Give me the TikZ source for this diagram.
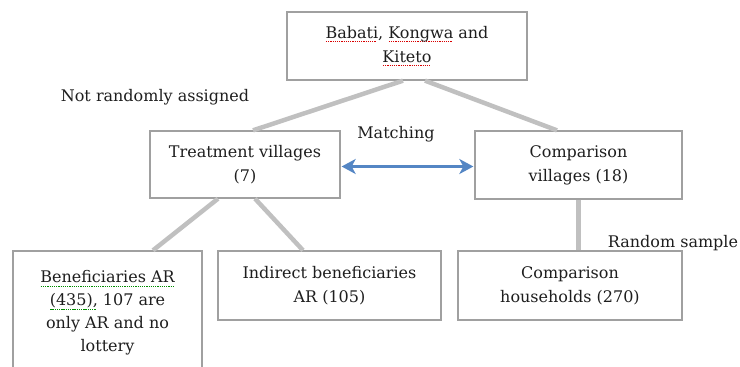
\documentclass[tikz,border=0pt]{standalone}
\usepackage{fontspec}
\setmainfont{DejaVu Serif}
\usetikzlibrary{arrows.meta}
\definecolor{boxgray}{RGB}{160,160,160}
\definecolor{linkgray}{RGB}{192,192,192}
\definecolor{matchblue}{RGB}{84,134,196}
\definecolor{txtgray}{RGB}{30,30,30}
\newsavebox\sqbox
\newcommand\squig[2]{\sbox\sqbox{#2}\rlap{\color{#1}\raisebox{-3.8pt}{\hbox to\wd\sqbox{\leaders\hbox to 2.2pt{\hss\rule{1.3pt}{1pt}\hss}\hfill}}}\usebox\sqbox}
\newcommand\redsq[1]{\squig{red!85!black}{#1}}
\newcommand\greensq[1]{\squig{green!55!black}{#1}}

\begin{document}
\begin{tikzpicture}[x=1pt,y=-1pt,
  box/.style={draw=boxgray,line width=1.3pt,fill=white,align=center,inner sep=2pt,text=txtgray,font=\fontsize{16}{24}\selectfont},
  lbl/.style={text=txtgray,font=\fontsize{16}{20}\selectfont},
  link/.style={linkgray,line width=4.5pt}]
\useasboundingbox (0,0) rectangle (740,367);
\clip (0,0) rectangle (740,367);
\node[box,minimum width=240pt,minimum height=68pt] (top) at (407,46) {\redsq{Babati}, \redsq{Kongwa} and\\\redsq{Kiteto}};
\node[box,minimum width=190pt,minimum height=67pt] (treat) at (245,164.5) {Treatment villages\\(7)};
\node[box,minimum width=207pt,minimum height=68pt] (comp) at (578.5,165) {Comparison\\villages (18)};
\node[box,minimum width=189pt,minimum height=124pt,font=\fontsize{16}{23}\selectfont] (benef) at (107.5,313) {\greensq{Beneficiaries AR}\\\greensq{(435),} 107 are\\only AR and no\\lottery};
\node[box,minimum width=223pt,minimum height=69pt] (indir) at (329.5,285.5) {Indirect beneficiaries\\AR (105)};
\node[box,minimum width=224pt,minimum height=69pt] (hh) at (570,285.5) {Comparison\\households (270)};
\node[lbl] (nra) at (155,97) {Not randomly assigned};
\node[lbl] (match) at (396,134) {Matching};
\node[lbl] (rs) at (673,243) {Random sample};
\draw[link] ([xshift=-4pt]top.south) -- ([xshift=8pt]treat.north);
\draw[link] ([xshift=18pt]top.south) -- ([xshift=-21.5pt]comp.north);
\draw[link] ([xshift=-27pt]treat.south) -- ([xshift=45.5pt]benef.north);
\draw[link] ([xshift=10pt]treat.south) -- ([xshift=-26.5pt]indir.north);
\draw[link] (comp.south) -- ([xshift=8.5pt]hh.north);
\draw[matchblue,line width=3.5pt,{Stealth[length=14pt,width=15pt,inset=4pt]}-{Stealth[length=14pt,width=15pt,inset=4pt]},shorten <=1pt,shorten >=1pt] ([yshift=-2pt]treat.east) -- ([yshift=-2pt]treat.east -| comp.west);
\end{tikzpicture}
\end{document}
